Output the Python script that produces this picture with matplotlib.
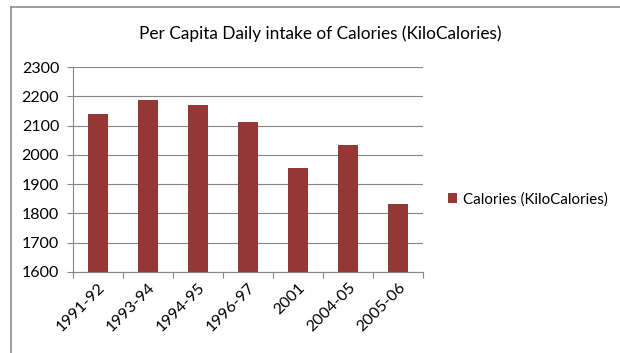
import numpy as np
import matplotlib.pyplot as plt
from matplotlib.lines import Line2D

years = ["1991-92", "1993-94", "1994-95", "1996-97", "2001", "2004-05", "2005-06"]
calories = [2140, 2187, 2172, 2113, 1954, 2034, 1832]
y_ticks = [1600, 1700, 1800, 1900, 2000, 2100, 2200, 2300]

BAR = "#953735"
GRID = "#868686"


def main():
    plt.rcParams["font.family"] = ["Lato", "DejaVu Sans"]

    fig = plt.figure(figsize=(6.2, 3.53), dpi=100)
    ax = fig.add_axes([0.1177, 0.2295, 0.5645, 0.5805])

    x = np.arange(len(years))
    ax.bar(x, calories, width=0.4, color=BAR, zorder=3,
           label="Calories (KiloCalories)")

    ax.set_ylim(y_ticks[0], y_ticks[-1])
    ax.set_yticks(y_ticks)
    ax.set_xlim(-0.5, len(years) - 0.5)
    ax.set_xticks(x)
    ax.set_xticklabels(years, rotation=45, ha="right", rotation_mode="anchor")
    ax.set_xticks(np.arange(len(years) + 1) - 0.5, minor=True)

    ax.yaxis.grid(True, color=GRID, linewidth=0.8, zorder=0)
    for side in ("top", "right"):
        ax.spines[side].set_visible(False)
    for side in ("left", "bottom"):
        ax.spines[side].set_color(GRID)
        ax.spines[side].set_linewidth(0.8)

    ax.tick_params(axis="x", which="major", length=0, pad=6, labelsize=11.5)
    ax.tick_params(axis="x", which="minor", length=4.5, color=GRID, width=0.8)
    ax.tick_params(axis="y", length=4, color=GRID, width=0.8, pad=6,
                   labelsize=11.5)

    fig.text(0.516, 0.905, "Per Capita Daily intake of Calories (KiloCalories)",
             ha="center", va="center", fontsize=12.4)

    ax.legend(loc="center left", bbox_to_anchor=(0.722, 0.435),
              bbox_transform=fig.transFigure, frameon=False, fontsize=10.9,
              handlelength=0.6, handleheight=0.6, handletextpad=0.4,
              borderaxespad=0, borderpad=0)

    # outer chart frame
    fig.add_artist(Line2D([10.5 / 620, 10.5 / 620], [0, 1 - 6.5 / 353],
                          transform=fig.transFigure, color="#8c8c8c", lw=1.2))
    fig.add_artist(Line2D([10.5 / 620, 1], [1 - 6.5 / 353, 1 - 6.5 / 353],
                          transform=fig.transFigure, color="#8c8c8c", lw=1.2))

    fig.savefig("out.png", dpi=100)


if __name__ == "__main__":
    main()
